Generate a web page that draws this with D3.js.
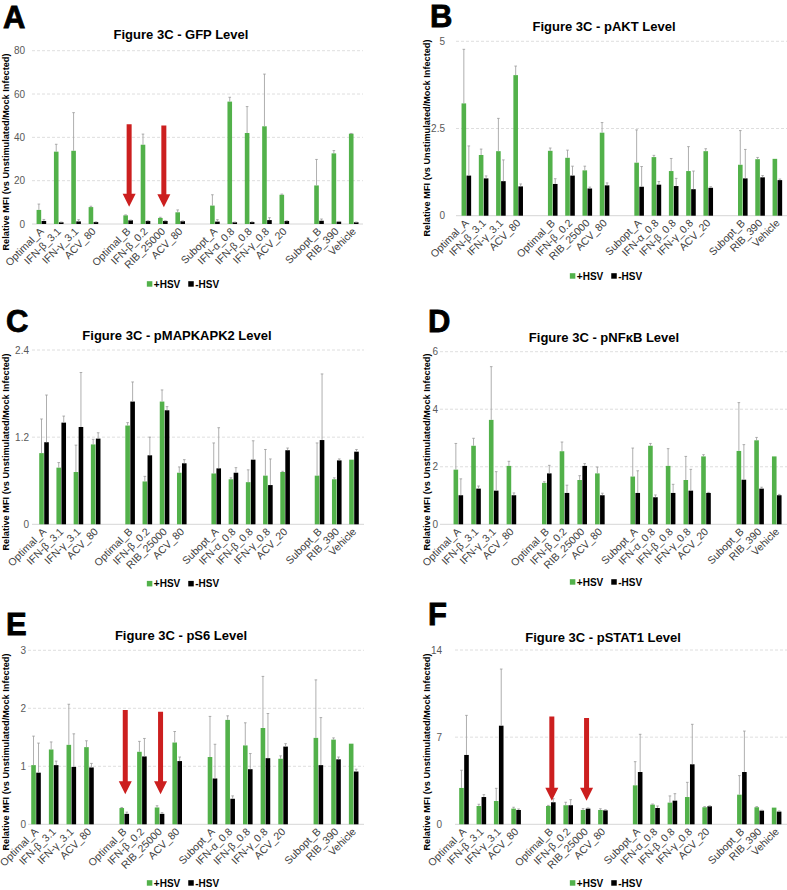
<!DOCTYPE html>
<html><head><meta charset="utf-8">
<script src="https://cdn.jsdelivr.net/npm/d3@7"></script>
<style>body{margin:0;background:#fff}svg{display:block}</style>
</head><body>
<svg id="chart" width="787" height="890"></svg>
<script>
// ---------- DATA ----------
const categories = ["Optimal_A","IFN-β_3.1","IFN-γ_3.1","ACV_80",
  "Optimal_B","IFN-β_0.2","RIB_25000","ACV_80",
  "Subopt_A","IFN-α_0.8","IFN-β_0.8","IFN-γ_0.8","ACV_20",
  "Subopt_B","RIB_390","Vehicle"];
const groupOf = [0,0,0,0, 1,1,1,1, 2,2,2,2,2, 3,3,3];
const seriesNames = ["+HSV","-HSV"];

// A - GFP
const gfpTicks = [0,20,40,60,80];
const gfpPlus     = [6.5,33.4,33.8,7.8, 4.0,36.6,2.8,5.4, 8.5,56.5,42.0,45.1,13.5, 17.8,32.6,41.7];
const gfpPlusErr  = [2.7,3.4,17.6,0.4, 0.2,4.9,0.3,1.1, 5.0,2.0,12.2,24.1,0.3, 12.0,1.3,0.1];
const gfpMinus    = [1.4,0.8,1.2,0.9, 1.7,1.4,1.4,1.3, 1.1,0.8,0.9,1.8,1.4, 1.5,1.1,0.8];
const gfpMinusErr = [0.7,0.1,0.8,0.1, 0.1,0.1,0.1,0.1, 0.9,0.1,0.1,1.1,0.1, 0.8,0.1,0.1];
const gfpArrowCats = [4,6], gfpArrowTop = [46,45.5], gfpArrowTip = [8,7.7];

// B - pAKT
const aktTicks = [0,2.5,5];
const aktPlus     = [3.22,1.74,1.85,4.03, 1.86,1.66,1.30,2.38, 1.52,1.68,1.28,1.28,1.85, 1.46,1.62,1.63];
const aktPlusErr  = [1.55,0.17,0.94,0.26, 0.08,0.22,0.12,0.29, 0.94,0.05,0.36,0.70,0.07, 0.98,0.05,0.0];
const aktMinus    = [1.15,1.07,0.99,0.84, 0.91,1.15,0.78,0.87, 0.83,0.89,0.85,0.76,0.80, 1.07,1.10,1.02];
const aktMinusErr = [0.85,0.07,0.61,0.07, 0.15,0.27,0.04,0.07, 0.58,0.09,0.22,0.52,0.03, 0.83,0.05,0.03];

// C - pMAPKAPK2
const mkTicks = [0,1.2,2.4];
const mkPlus     = [0.98,0.78,0.72,1.10, 1.36,0.59,1.69,0.71, 0.70,0.62,0.58,0.67,0.72, 0.67,0.62,0.89];
const mkPlusErr  = [0.47,0.07,0.37,0.07, 0.04,0.07,0.16,0.08, 0.42,0.02,0.17,0.36,0.01, 0.45,0.02,0.0];
const mkMinus    = [1.13,1.40,1.34,1.18, 1.69,0.95,1.57,0.84, 0.77,0.71,0.89,0.54,1.02, 1.16,0.88,1.00];
const mkMinusErr = [0.65,0.09,0.75,0.08, 0.27,0.25,0.05,0.05, 0.56,0.07,0.26,0.36,0.03, 0.91,0.02,0.03];

// D - pNFkB
const nfTicks = [0,2,4,6];
const nfPlus     = [1.90,2.73,3.63,2.03, 1.44,2.54,1.54,1.77, 1.66,2.73,2.03,1.54,2.36, 2.55,2.92,2.36];
const nfPlusErr  = [0.91,0.26,1.85,0.16, 0.04,0.32,0.15,0.22, 0.99,0.08,0.60,0.82,0.06, 1.68,0.10,0.0];
const nfMinus    = [1.01,1.24,1.17,1.01, 1.77,1.09,2.03,1.01, 1.09,0.94,1.09,1.17,1.09, 1.55,1.24,1.01];
const nfMinusErr = [0.57,0.09,0.66,0.08, 0.28,0.27,0.08,0.07, 0.77,0.08,0.30,0.74,0.02, 1.22,0.05,0.03];

// E - pS6
const s6Ticks = [0,1,2,3];
const s6Plus     = [1.02,1.29,1.37,1.33, 0.28,1.25,0.29,1.41, 1.16,1.80,1.36,1.66,1.13, 1.49,1.46,1.39];
const s6PlusErr  = [0.50,0.13,0.70,0.11, 0.01,0.18,0.03,0.19, 0.70,0.07,0.39,0.89,0.05, 1.00,0.03,0.0];
const s6Minus    = [0.89,1.02,0.99,0.98, 0.18,1.17,0.18,1.09, 0.79,0.44,0.95,1.14,1.34, 1.02,1.12,0.91];
const s6MinusErr = [0.51,0.07,0.57,0.07, 0.03,0.31,0.02,0.07, 0.59,0.05,0.27,0.77,0.05, 0.82,0.04,0.04];
const s6ArrowCats = [4,6], s6ArrowTop = [1.97,1.94], s6ArrowTip = [0.52,0.52];

// F - pSTAT1
const stTicks = [0,7,14];
const stPlus     = [2.92,1.47,1.87,1.26, 1.47,1.53,1.15,1.15, 3.13,1.58,1.74,2.19,1.37, 2.38,1.37,1.34];
const stPlusErr  = [1.42,0.14,1.02,0.11, 0.05,0.24,0.11,0.10, 1.90,0.05,0.54,1.18,0.05, 1.53,0.05,0.0];
const stMinus    = [5.57,2.19,7.92,1.15, 1.77,1.53,1.26,1.12, 4.20,1.31,1.90,4.82,1.45, 4.20,1.10,1.02];
const stMinusErr = [3.18,0.19,4.55,0.08, 0.29,0.45,0.05,0.05, 3.03,0.16,0.56,3.21,0.03, 3.29,0.03,0.05];
const stArrowCats = [4,6], stArrowTop = [8.65,8.54], stArrowTip = [1.9,1.9];

// ---------- LAYOUT / STYLE ----------
const FONT = "'Liberation Sans', Arial, Helvetica, sans-serif";
const GREEN = "#52b14a", BLACK = "#000000", RED = "#cc1f1f";
const ERR = "#9a9a9a", GRID = "#d6d6d6";

const panels = [
  {letter:"A", title:"Figure 3C - GFP Level", ticks:gfpTicks, plus:gfpPlus, plusErr:gfpPlusErr, minus:gfpMinus, minusErr:gfpMinusErr,
   arrows:{cats:gfpArrowCats, top:gfpArrowTop, tip:gfpArrowTip},
   L:{x0:32.7,x1:362.4,yTop:50.7,yZero:224,gx0:32,gx1:363,tickX:25,ylx:8.5,yly:152,tx:181,ty:39,lx:3,ly:28,legX:183,legY:284}},
  {letter:"B", title:"Figure 3C - pAKT Level", ticks:aktTicks, plus:aktPlus, plusErr:aktPlusErr, minus:aktMinus, minusErr:aktMinusErr,
   L:{x0:457.7,x1:786,yTop:41.3,yZero:215.7,gx0:456,gx1:787,tickX:445,ylx:429.5,yly:138,tx:604,ty:31,lx:430,ly:27,legX:606,legY:276}},
  {letter:"C", title:"Figure 3C - pMAPKAPK2 Level", ticks:mkTicks, plus:mkPlus, plusErr:mkPlusErr, minus:mkMinus, minusErr:mkMinusErr,
   L:{x0:35.4,x1:362.6,yTop:350,yZero:524.3,gx0:32,gx1:364,tickX:29,ylx:8.5,yly:452,tx:177,ty:340,lx:6,ly:332,legX:183,legY:583.7}},
  {letter:"D", title:"Figure 3C - pNF\u03baB Level", ticks:nfTicks, plus:nfPlus, plusErr:nfPlusErr, minus:nfMinus, minusErr:nfMinusErr,
   L:{x0:449.5,x1:785.6,yTop:351.7,yZero:524.3,gx0:440,gx1:787,tickX:438,ylx:429.5,yly:452,tx:604,ty:342,lx:428,ly:332,legX:606,legY:582}},
  {letter:"E", title:"Figure 3C - pS6 Level", ticks:s6Ticks, plus:s6Plus, plusErr:s6PlusErr, minus:s6Minus, minusErr:s6MinusErr,
   arrows:{cats:s6ArrowCats, top:s6ArrowTop, tip:s6ArrowTip},
   L:{x0:27.2,x1:362.5,yTop:650.3,yZero:824.3,gx0:28,gx1:364,tickX:26,ylx:8.5,yly:752,tx:181,ty:640,lx:6,ly:635,legX:183,legY:883}},
  {letter:"F", title:"Figure 3C - pSTAT1 Level", ticks:stTicks, plus:stPlus, plusErr:stPlusErr, minus:stMinus, minusErr:stMinusErr,
   arrows:{cats:stArrowCats, top:stArrowTop, tip:stArrowTip},
   L:{x0:455.3,x1:785.3,yTop:650,yZero:824.3,gx0:455,gx1:787,tickX:442,ylx:429.5,yly:752,tx:603,ty:642,lx:428,ly:625,legX:606,legY:883}}
];

const svg = d3.select("#chart").style("font-family", FONT);
const nSlots = categories.length + d3.max(groupOf);
const slotOf = i => i + groupOf[i];
const BW = 4.6;

panels.forEach(p => {
  const L = p.L;
  const g = svg.append("g");
  const x = d3.scaleBand().domain(d3.range(nSlots)).range([L.x0, L.x1]);
  const y = d3.scaleLinear().domain([0, d3.max(p.ticks)]).range([L.yZero, L.yTop]);
  const cx = i => x(slotOf(i)) + x.bandwidth() / 2;

  // panel letter
  g.append("text").attr("x", L.lx).attr("y", L.ly).text(p.letter)
    .attr("font-size", 31).attr("font-weight", "bold").attr("fill", "#000")
    .attr("stroke", "#000").attr("stroke-width", 0.8);
  // title
  g.append("text").attr("x", L.tx).attr("y", L.ty).text(p.title)
    .attr("text-anchor", "middle").attr("font-size", 13).attr("font-weight", "bold").attr("fill", "#000");

  // gridlines
  g.selectAll(".grid").data(p.ticks.filter(t => t > 0)).join("line")
    .attr("x1", L.gx0).attr("x2", L.gx1).attr("y1", d => y(d)).attr("y2", d => y(d))
    .attr("stroke", GRID).attr("stroke-width", 0.8).attr("stroke-dasharray", "3,2");
  // baseline
  g.append("line").attr("x1", L.gx0).attr("x2", L.gx1).attr("y1", y(0)).attr("y2", y(0))
    .attr("stroke", GRID).attr("stroke-width", 1);

  // y axis ticks (labels only)
  const ax = g.append("g").attr("transform", `translate(${L.tickX},0)`)
    .call(d3.axisLeft(y).tickValues(p.ticks).tickSize(0).tickPadding(0).tickFormat(d => String(d)));
  ax.select(".domain").remove();
  ax.selectAll("text").attr("font-size", 10).attr("fill", "#595959").attr("font-family", FONT);

  // y label
  g.append("text").attr("transform", `translate(${L.ylx},${L.yly}) rotate(-90)`)
    .attr("text-anchor", "middle").attr("font-size", 9.2).attr("font-weight", "bold").attr("fill", "#000")
    .text("Relative MFI (vs Unstimulated/Mock Infected)");

  // bars
  const idx = d3.range(categories.length);
  g.selectAll(".gbar").data(idx).join("rect")
    .attr("x", i => cx(i) - BW - 0.2).attr("width", BW)
    .attr("y", i => y(p.plus[i])).attr("height", i => y(0) - y(p.plus[i]))
    .attr("fill", GREEN);
  g.selectAll(".kbar").data(idx).join("rect")
    .attr("x", i => cx(i) + 0.2).attr("width", BW)
    .attr("y", i => y(p.minus[i])).attr("height", i => y(0) - y(p.minus[i]))
    .attr("fill", BLACK);

  // error bars (upper only)
  const errs = [];
  idx.forEach(i => {
    errs.push({xc: cx(i) - BW/2 - 0.2, v: p.plus[i], e: p.plusErr[i]});
    errs.push({xc: cx(i) + BW/2 + 0.2, v: p.minus[i], e: p.minusErr[i]});
  });
  const eg = g.selectAll(".err").data(errs.filter(d => d.e > 0)).join("g");
  eg.append("line").attr("x1", d => d.xc).attr("x2", d => d.xc)
    .attr("y1", d => y(d.v)).attr("y2", d => y(d.v + d.e))
    .attr("stroke", ERR).attr("stroke-width", 0.8);
  eg.append("line").attr("x1", d => d.xc - 1.3).attr("x2", d => d.xc + 1.3)
    .attr("y1", d => y(d.v + d.e)).attr("y2", d => y(d.v + d.e))
    .attr("stroke", ERR).attr("stroke-width", 0.8);

  // x labels
  g.selectAll(".xl").data(idx).join("text")
    .attr("transform", i => `translate(${cx(i) + 3},${y(0) + 8}) rotate(-45)`)
    .attr("text-anchor", "end").attr("font-size", 10.5).attr("fill", "#404040")
    .text(i => categories[i]);

  // arrows
  if (p.arrows) {
    const a = p.arrows;
    const shaftW = 5, headW = 13, headH = 13;
    a.cats.forEach((c, k) => {
      const xc = x(slotOf(c)) + x.bandwidth() / 2 + 1;
      const yt = y(a.top[k]), yb = y(a.tip[k]);
      const yh = yb - headH;
      const pts = [[xc - shaftW/2, yt],[xc + shaftW/2, yt],[xc + shaftW/2, yh],[xc + headW/2, yh],
                   [xc, yb],[xc - headW/2, yh],[xc - shaftW/2, yh]];
      g.append("path").attr("d", d3.line()(pts) + "Z").attr("fill", RED);
    });
  }

  // legend
  const leg = g.append("g");
  let off = 0;
  [GREEN, BLACK].forEach((col, k) => {
    leg.append("rect").attr("x", off).attr("y", -2.8).attr("width", 5.5).attr("height", 5.5).attr("fill", col);
    const t = leg.append("text").attr("x", off + 7).attr("y", 3.6).text(seriesNames[k])
      .attr("font-size", 10).attr("font-weight", "bold").attr("fill", "#000");
    off += 7 + t.node().getComputedTextLength() + 8;
  });
  const w = off - 8;
  leg.attr("transform", `translate(${L.legX - w/2},${L.legY})`);
});
</script>
</body></html>
